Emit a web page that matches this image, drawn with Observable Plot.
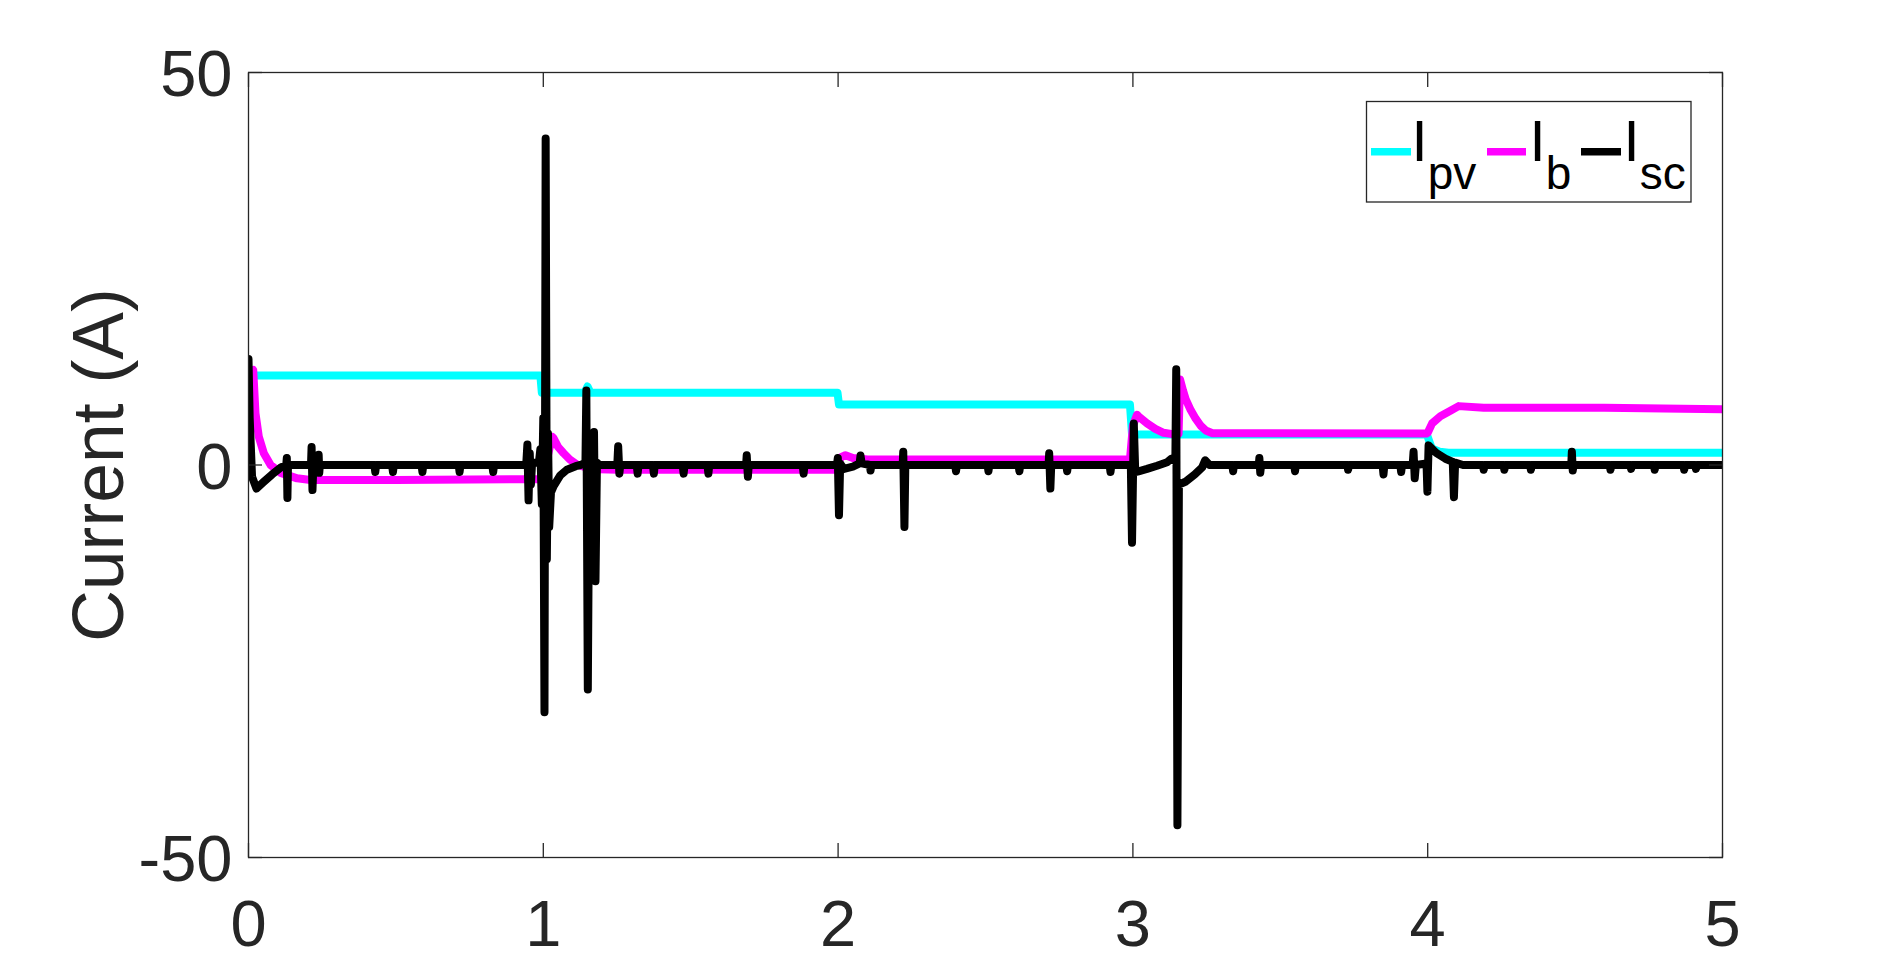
<!DOCTYPE html>
<html>
<head>
<meta charset="utf-8">
<script src="https://cdn.jsdelivr.net/npm/d3@7"></script>
<script src="https://cdn.jsdelivr.net/npm/@observablehq/plot@0.6"></script>
<style>
  html, body { margin: 0; padding: 0; background: white; }
  #chart { width: 1904px; height: 964px; }
</style>
</head>
<body>
<div id="chart"></div>
<script>
// ---- data (time in s, current in A) ----
const xTicks = [0, 1, 2, 3, 4, 5];
const yTicks = [-50, 0, 50];
const yLabel = "Current (A)";
const seriesNames = ["pv", "b", "sc"];
const seriesColors = ["#00FFFF", "#FF00FF", "#000000"];

// I_pv
const pvPoints = [
  [0, 10.2], [0.008, 11.4], [0.99, 11.4], [0.995, 9.2], [1.14, 9.2], [1.15, 10.0], [1.16, 9.2],
  [1.998, 9.2], [2.003, 7.7], [2.99, 7.7], [2.997, 3.9], [3.995, 3.9], [4.0, 3.6],
  [4.014, 2.1], [4.04, 1.7], [4.07, 1.55], [5.0, 1.55]
];

// I_b
const bPoints = [
  [0, 11.8], [0.016, 12.1], [0.0237, 6.6], [0.035, 3.6], [0.052, 1.5], [0.075, 0.0],
  [0.109, -1.0], [0.165, -1.7], [0.21, -1.9], [0.5, -1.9], [0.99, -1.8], [1.0, -1.4],
  [1.03, 3.6], [1.035, 3.4], [1.05, 2.3], [1.069, 1.5], [1.09, 0.7], [1.114, 0.06],
  [1.16, -0.5], [1.25, -0.6],
  [1.99, -0.6], [2.01, 1.0], [2.025, 1.25], [2.05, 0.9], [2.1, 0.7], [2.99, 0.7],
  [3.0, 5.0], [3.014, 6.4], [3.02, 6.15], [3.048, 5.3], [3.076, 4.6], [3.104, 4.1], [3.14, 3.9],
  [3.155, 4.0], [3.16, 10.9], [3.17, 9.5], [3.179, 8.4], [3.196, 7.0], [3.213, 5.9],
  [3.23, 5.0], [3.247, 4.4], [3.27, 4.05], [3.995, 4.0],
  [4.0, 4.1], [4.015, 5.3], [4.043, 6.2], [4.077, 6.9], [4.105, 7.5], [4.19, 7.3], [4.6, 7.3], [5.0, 7.1]
];

// I_sc
const scPoints = [
  [0, 13.5], [0.004, 6], [0.012, -1.5], [0.027, -3.0], [0.05, -2.2], [0.08, -1.2], [0.11, -0.3], [0.128, 0.0],
  [0.130, 0.9], [0.132, -4.2], [0.134, 0],
  [0.212, 0], [0.214, 2.3], [0.217, -3.2], [0.22, 0],
  [0.236, 0], [0.238, 1.3], [0.24, -1.0], [0.242, 0],
  [0.427, 0], [0.43, -0.9], [0.433, 0],
  [0.487, 0], [0.49, -0.9], [0.493, 0],
  [0.587, 0], [0.59, -0.9], [0.593, 0],
  [0.713, 0], [0.716, -0.9], [0.719, 0],
  [0.827, 0], [0.83, -0.9], [0.833, 0],
  [0.942, 0], [0.946, 2.6], [0.95, -4.5], [0.954, 1.5], [0.958, -2.5], [0.962, 0.3], [0.985, 0.3],
  [0.99, 2.0], [0.995, -5], [1.0, 6], [1.004, -31.5], [1.008, 41.6], [1.012, -12], [1.016, 4],
  [1.02, -7.9], [1.026, -3.5], [1.035, -2.7], [1.058, -1.3], [1.08, -0.6], [1.11, -0.15], [1.126, 0],
  [1.143, 0.3], [1.146, 9.5], [1.151, -28.6], [1.156, 0.5], [1.162, 3], [1.167, -6], [1.172, 4.2],
  [1.177, -14.8], [1.182, 0.3], [1.19, 0],
  [1.251, 0], [1.254, 2.4], [1.258, -1.1], [1.261, 0],
  [1.317, 0], [1.32, -1.1], [1.323, 0],
  [1.372, 0], [1.375, -1.1], [1.378, 0],
  [1.473, 0], [1.476, -1.1], [1.479, 0],
  [1.557, 0], [1.56, -1.1], [1.563, 0],
  [1.688, 0], [1.69, 1.25], [1.694, -1.5], [1.697, 0],
  [1.88, 0], [1.883, -1.1], [1.886, 0],
  [1.996, 0], [1.999, 0.9], [2.003, -6.4], [2.007, 0.2], [2.02, -0.5], [2.05, -0.2],
  [2.073, 0.2], [2.076, 1.2], [2.08, 0.2], [2.108, 0], [2.11, -0.7], [2.113, 0],
  [2.219, 0], [2.221, 1.7], [2.225, -7.9], [2.228, 0],
  [2.397, 0], [2.4, -0.8], [2.403, 0],
  [2.507, 0], [2.51, -0.8], [2.513, 0],
  [2.612, 0], [2.615, -0.8], [2.618, 0],
  [2.714, 0], [2.716, 1.5], [2.72, -3.0], [2.723, 0],
  [2.774, 0], [2.777, -0.8], [2.78, 0],
  [2.921, 0], [2.924, -0.9], [2.927, 0],
  [2.993, 0], [2.997, -9.9], [3.003, 5.3], [3.008, -0.9], [3.019, -0.8], [3.048, -0.5],
  [3.082, -0.1], [3.116, 0.35], [3.13, 0.8], [3.144, 0.5], [3.147, 12.2], [3.151, -45.9],
  [3.156, -2.5], [3.18, -2.1], [3.21, -1.2], [3.235, -0.3], [3.245, 0.6], [3.26, 0],
  [3.337, 0], [3.34, -0.8], [3.343, 0],
  [3.427, 0], [3.429, 0.9], [3.432, -1.0], [3.435, 0],
  [3.547, 0], [3.55, -0.8], [3.553, 0],
  [3.727, 0], [3.73, -0.6], [3.733, 0],
  [3.847, 0], [3.85, -1.2], [3.853, 0],
  [3.907, 0], [3.91, -0.9], [3.913, 0],
  [3.949, 0], [3.952, 1.7], [3.956, -1.7], [3.96, 0],
  [3.996, 0.2], [3.999, -3.4], [4.003, 2.5], [4.03, 1.5], [4.06, 0.8], [4.085, 0.4],
  [4.089, -4.1], [4.093, 0.3], [4.12, 0],
  [4.187, 0], [4.19, -0.6], [4.193, 0],
  [4.257, 0], [4.26, -0.6], [4.263, 0],
  [4.347, 0], [4.35, -0.6], [4.353, 0],
  [4.487, 0], [4.489, 1.7], [4.492, -0.7], [4.495, 0],
  [4.617, 0], [4.62, -0.6], [4.623, 0],
  [4.687, 0], [4.69, -0.5], [4.693, 0],
  [4.767, 0], [4.77, -0.6], [4.773, 0],
  [4.867, 0], [4.87, -0.6], [4.873, 0],
  [4.907, 0], [4.91, -0.5], [4.913, 0],
  [5.0, 0]
];

// ---- chart ----
const toRows = (pts) => pts.map(([t, v]) => ({t, v}));
const font = "'Liberation Sans', Arial, Helvetica, sans-serif";
const ink = "#262626";
const lineStyle = {x: "t", y: "v", strokeWidth: 8, strokeLinecap: "round", strokeLinejoin: "round", clip: true};

const plot = Plot.plot({
  width: 1904,
  height: 964,
  marginLeft: 248,
  marginRight: 182,
  marginTop: 72,
  marginBottom: 107,
  style: {fontFamily: font, color: ink, background: "white"},
  x: {domain: [0, 5]},
  y: {domain: [-50, 50]},
  marks: [
    Plot.line(toRows(pvPoints), {...lineStyle, stroke: seriesColors[0]}),
    Plot.line(toRows(bPoints), {...lineStyle, stroke: seriesColors[1]}),
    Plot.line(toRows(scPoints), {...lineStyle, stroke: seriesColors[2]}),
    Plot.frame({stroke: ink, strokeWidth: 1.3}),
    // inward ticks, mirrored on all four sides
    Plot.axisX(xTicks, {anchor: "bottom", tickSize: -14, fill: "none", label: null, stroke: ink, strokeWidth: 1.3}),
    Plot.axisX(xTicks, {anchor: "top", tickSize: -14, fill: "none", label: null, stroke: ink, strokeWidth: 1.3}),
    Plot.axisY(yTicks, {anchor: "left", tickSize: -14, fill: "none", label: null, stroke: ink, strokeWidth: 1.3}),
    Plot.axisY(yTicks, {anchor: "right", tickSize: -14, fill: "none", label: null, stroke: ink, strokeWidth: 1.3}),
    // tick labels
    Plot.axisX(xTicks, {anchor: "bottom", tickSize: 0, tickPadding: 42, fontSize: 65, fill: ink, label: null, tickFormat: d => String(d)}),
    Plot.axisY(yTicks, {anchor: "left", tickSize: 0, tickPadding: 16, dy: 3, fontSize: 65, fill: ink, label: null, tickFormat: d => String(d)}),
    // axis title
    Plot.text([yLabel], {frameAnchor: "left", text: d => d, rotate: -90, dx: -126, lineAnchor: "bottom", textAnchor: "middle", fontSize: 71.5, fill: ink})
  ]
});

document.getElementById("chart").appendChild(plot);

// ---- legend (MATLAB style box, top right inside axes) ----
const svg = d3.select(plot);
const lg = svg.append("g").attr("font-family", font).attr("fill", "#000").attr("text-anchor", "start");
lg.append("rect")
  .attr("x", 1366.5).attr("y", 101.5).attr("width", 324.5).attr("height", 100.5)
  .attr("fill", "white").attr("stroke", ink).attr("stroke-width", 1.3);
const entries = [
  {line: [1371, 1411], textX: 1411.5},
  {line: [1487, 1526], textX: 1529.5},
  {line: [1581, 1621], textX: 1623.5}
];
entries.forEach((e, i) => {
  lg.append("line")
    .attr("x1", e.line[0]).attr("x2", e.line[1]).attr("y1", 151.7).attr("y2", 151.7)
    .attr("stroke", seriesColors[i]).attr("stroke-width", 7.5);
  const t = lg.append("text").attr("x", e.textX).attr("y", 160.7)
    .attr("font-size", 58).attr("text-anchor", "start").text("I");
  t.append("tspan").attr("font-size", 46).attr("dy", 28).text(seriesNames[i]);
});
</script>
</body>
</html>
